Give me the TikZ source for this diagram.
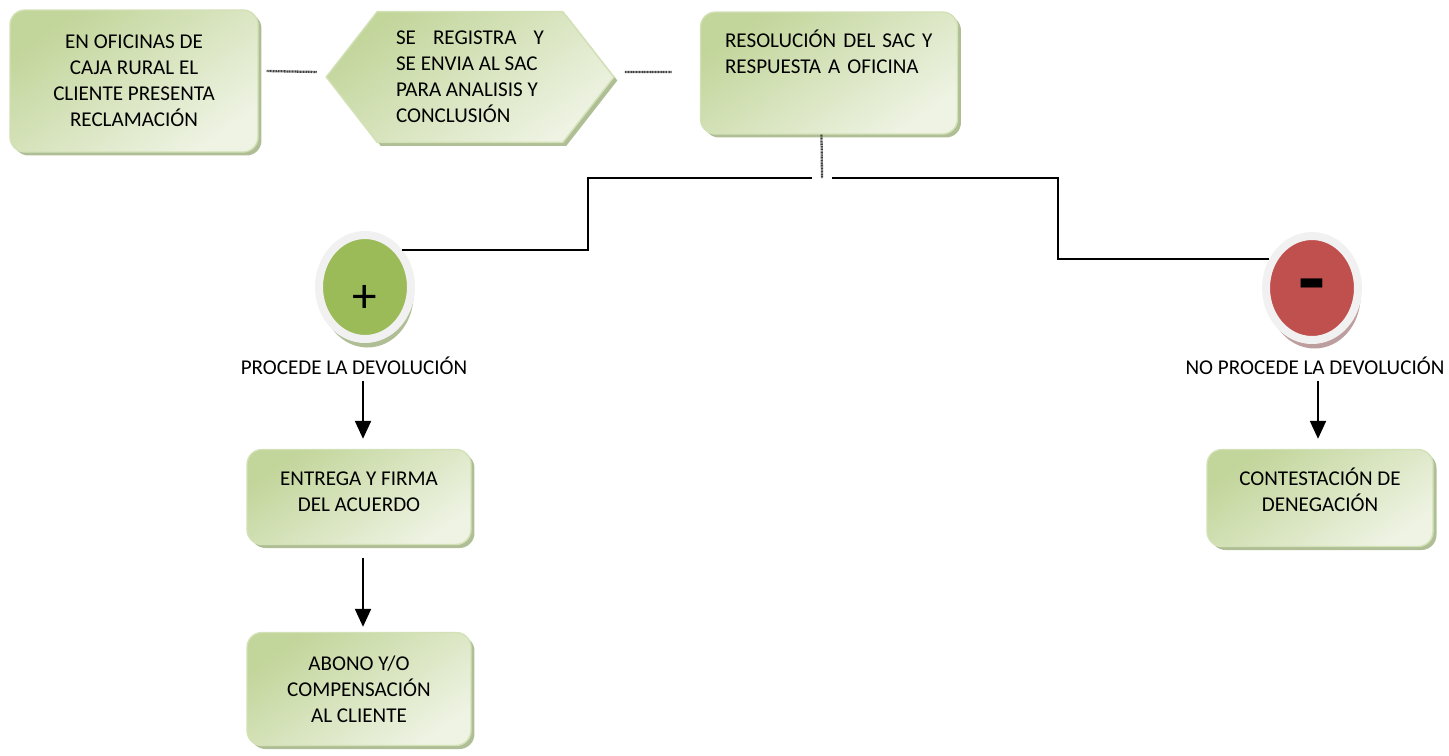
\documentclass[tikz,border=0pt]{standalone}
\usepackage{fontspec}
\setmainfont{Carlito}
\usepackage{tikz}
\usetikzlibrary{shapes,arrows,arrows.meta,shadows,calc,positioning,backgrounds}
\definecolor{verdeOsc}{HTML}{C2D59A}
\definecolor{verdeClaro}{HTML}{EEF3E3}
\definecolor{verdeBorde}{HTML}{D3E1B6}
\definecolor{verdeSombra}{HTML}{A7B78B}
\definecolor{verdeCirc}{HTML}{9BBB59}
\definecolor{rojoCirc}{HTML}{C0504D}
\definecolor{rojoSombra}{HTML}{B59393}
\definecolor{anillo}{HTML}{F1F1F1}
\tikzstyle{relleno} = [draw=verdeBorde, line width=0.8pt,
    top color=verdeOsc, bottom color=verdeClaro, shading angle=35,
    drop shadow={shadow xshift=0.07cm, shadow yshift=-0.07cm, fill=verdeSombra, opacity=0.9}]
\tikzstyle{caja} = [relleno, rounded corners=0.3cm]
\tikzstyle{bola} = [ellipse, minimum width=1.84cm, minimum height=2.08cm,
    draw=anillo, line width=0.16cm, inner sep=0pt]
\tikzstyle{enlace} = [draw=black!75, line width=1.3pt, dash pattern=on 0.6pt off 0.3pt]
\tikzstyle{rama} = [draw, line width=0.9pt]
\tikzstyle{flecha} = [draw, line width=1.2pt]

\begin{document}
\begin{tikzpicture}[x=0.02cm, y=-0.02cm, >={Triangle[length=0.36cm, width=0.32cm]},
    font=\fontsize{12}{14.8}\selectfont]
    \useasboundingbox (0,0) rectangle (1449,755);

    % fila de arriba
    \node[caja, minimum width=4.96cm, minimum height=2.84cm, align=center] at (134,81) (reclamo)
        {EN OFICINAS DE\\CAJA RURAL EL\\CLIENTE PRESENTA\\RECLAMACIÓN};
    \node[minimum width=5.74cm, minimum height=2.6cm, align=left] at (470,77) (registro)
        {\hbox to 2.96cm{SE\hfil REGISTRA\hfil Y}\\SE ENVIA AL SAC\\PARA ANALISIS Y\\CONCLUSIÓN};
    \begin{scope}[on background layer]
        \path[relleno] (registro.west) -- ($(registro.north west)+(51,0)$) -- ($(registro.north east)+(-51,0)$)
            -- (registro.east) -- ($(registro.south east)+(-51,0)$) -- ($(registro.south west)+(51,0)$) -- cycle;
    \end{scope}
    \node[caja, minimum width=5.14cm, minimum height=2.44cm, text width=4.16cm, align=left] at (829,73) (resolucion)
        {RESOLUCIÓN DEL SAC Y\\RESPUESTA A OFICINA\\\mbox{}\\[-0.2cm]\mbox{}};
    \draw[enlace] ([xshift=0.16cm,yshift=0.2cm]reclamo.east) -- ([xshift=-0.18cm,yshift=0.1cm]registro.west);
    \draw[enlace] ([xshift=0.22cm,yshift=0.1cm]registro.east) -- ([xshift=-0.56cm,yshift=0.02cm]resolucion.west);

    % procede
    \node[bola, fill=verdeCirc, drop shadow={shadow xshift=0.05cm, shadow yshift=-0.17cm, fill=verdeSombra, opacity=0.9}]
        at (365,287) (procede) {\raisebox{-0.51cm}[0pt][0pt]{\fontsize{28}{28}\selectfont +}};
    \node at (354,366) (lblProcede) {PROCEDE LA DEVOLUCIÓN};
    \node[caja, minimum width=4.48cm, minimum height=1.9cm, align=center] at (359,497) (entrega)
        {ENTREGA Y FIRMA\\DEL ACUERDO\\[-0.32cm]\mbox{}};
    \node[caja, minimum width=4.48cm, minimum height=2.26cm, align=center] at (359,689) (abono)
        {ABONO Y/O\\COMPENSACIÓN\\AL CLIENTE};

    % no procede
    \node[bola, fill=rojoCirc, drop shadow={shadow xshift=0.05cm, shadow yshift=-0.17cm, fill=rojoSombra, opacity=0.9}]
        at (1312,288) (noprocede) {\raisebox{-0.41cm}[0pt][0pt]{\fontsize{50}{50}\selectfont\bfseries -}};
    \node at (1315,366) (lblNoProcede) {NO PROCEDE LA DEVOLUCIÓN};
    \node[caja, minimum width=4.52cm, minimum height=1.94cm, align=center] at (1320,498) (contestacion)
        {CONTESTACIÓN DE\\DENEGACIÓN\\[-0.2cm]\mbox{}};

    % ramas
    \coordinate (ramal) at (822,178);
    \coordinate (codoIzq) at (588,178);
    \coordinate (codoDer) at (1058,178);
    \draw[enlace] ([xshift=-0.15cm]resolucion.south) -- (ramal);
    \draw[rama] ([xshift=-0.2cm]ramal) -- (codoIzq) |- (procede.45);
    \draw[rama] ([xshift=0.2cm]ramal) -- (codoDer) |- (noprocede.146);

    \draw[->, flecha, shorten >=0.2cm] ($(lblProcede.south -| entrega.north)+(4,0)$) -- ($(entrega.north)+(4,0)$);
    \draw[->, flecha, shorten <=0.26cm, shorten >=0.1cm] ($(entrega.south)+(4,0)$) -- ($(abono.north)+(4,0)$);
    \draw[->, flecha, shorten >=0.2cm] ($(lblNoProcede.south -| contestacion.north)+(-2,0)$) -- ($(contestacion.north)+(-2,0)$);
\end{tikzpicture}
\end{document}
